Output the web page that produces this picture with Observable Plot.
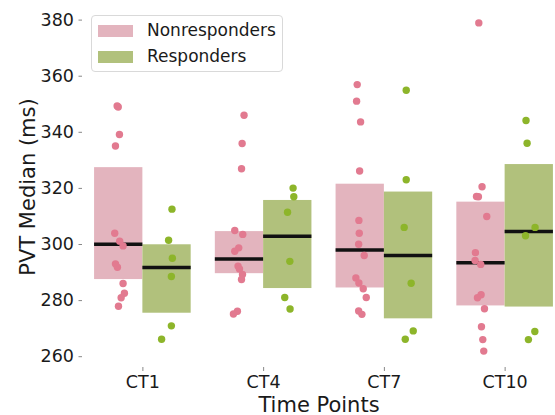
<!DOCTYPE html>
<html>
<head>
<meta charset="utf-8">
<script src="https://cdn.jsdelivr.net/npm/d3@7"></script>
<script src="https://cdn.jsdelivr.net/npm/@observablehq/plot@0.6"></script>
<style>
  html, body { margin: 0; padding: 0; background: #fff; }
  #wrap { position: relative; width: 555px; height: 415px; overflow: hidden; font-family: "DejaVu Sans", sans-serif; }
  #wrap svg { display: block; }
  .legend { position: absolute; left: 91px; top: 15px; width: 192px; height: 57px; border: 1px solid #d9d9d9; border-radius: 4px; background: rgba(255,255,255,0.8); box-sizing: border-box; }
  .legend .row { position: absolute; left: 6px; height: 13px; display: flex; align-items: center; }
  .legend .sw { width: 35px; height: 12px; margin-right: 14px; }
  .legend .lb { font-size: 17px; color: #1a1a1a; white-space: nowrap; line-height: 13px; }
  g[aria-label="x-axis label"] text, g[aria-label="y-axis label"] text { font-size: 21px; }
</style>
</head>
<body>
<div id="wrap"></div>
<script>
const timePoints = ["CT1", "CT4", "CT7", "CT10"];
const groups = ["Nonresponders", "Responders"];

const boxLowNon  = [287.5, 289.6, 284.5, 278.1];
const boxHighNon = [327.4, 304.6, 321.5, 315.1];
const medianNon  = [300.1, 294.8, 298.0, 293.5];

const boxLowRes  = [275.5, 284.3, 273.5, 277.7];
const boxHighRes = [299.9, 315.7, 318.7, 328.5];
const medianRes  = [291.8, 302.9, 296.1, 304.6];

const pointsNon = [
  [349.4, 349.0, 339.2, 335.1, 304.0, 301.2, 299.5, 293.1, 291.9, 286.1, 282.6, 281.0, 278.0],
  [346.1, 336.0, 327.0, 305.0, 303.6, 298.8, 297.6, 292.3, 291.3, 289.3, 287.5, 276.2, 275.2],
  [357.0, 351.1, 343.7, 326.2, 308.6, 304.0, 300.1, 296.1, 288.1, 286.3, 284.2, 281.1, 276.3, 275.1],
  [379.0, 320.6, 317.1, 317.0, 310.0, 297.1, 294.3, 292.9, 282.1, 281.0, 277.1, 270.7, 266.1, 262.0]
];
const jitterNon = [
  [-0.013, -0.004, 0.006, -0.027, -0.033, 0.008, 0.036, -0.027, -0.011, 0.036, 0.047, 0.020, -0.002],
  [0.038, 0.022, 0.017, -0.039, 0.027, -0.006, -0.039, -0.012, 0.000, 0.025, 0.017, -0.017, -0.050],
  [-0.025, -0.030, 0.003, -0.005, -0.011, -0.008, -0.013, 0.033, -0.036, -0.011, 0.025, 0.050, -0.013, 0.014],
  [-0.018, 0.009, -0.037, -0.021, 0.048, -0.046, -0.049, -0.002, 0.001, -0.029, 0.029, 0.004, 0.015, 0.023]
];

const pointsRes = [
  [312.6, 301.5, 295.1, 288.6, 271.0, 266.2],
  [320.1, 317.0, 311.5, 294.0, 281.1, 277.0],
  [355.0, 323.1, 306.1, 286.2, 269.2, 266.2],
  [344.2, 336.1, 306.1, 303.1, 269.0, 266.1]
];
const jitterRes = [
  [0.041, 0.013, 0.044, 0.036, 0.036, -0.045],
  [0.044, 0.050, -0.002, 0.017, -0.025, 0.019],
  [-0.019, -0.019, -0.036, 0.022, 0.039, -0.027],
  [-0.027, -0.018, 0.048, -0.031, 0.046, -0.007]
];

const yTicks = [260, 280, 300, 320, 340, 360, 380];

const boxColors = {Nonresponders: "#e3b4be", Responders: "#b1c17c"};
const dotColors = {Nonresponders: "#e27a90", Responders: "#8db52a"};
const boxWidth = 0.4;

// build tables
const boxes = [];
const dots = [];
timePoints.forEach((t, i) => {
  boxes.push({i, group: groups[0], lo: boxLowNon[i], hi: boxHighNon[i], med: medianNon[i]});
  boxes.push({i, group: groups[1], lo: boxLowRes[i], hi: boxHighRes[i], med: medianRes[i]});
  pointsNon[i].forEach((v, k) => dots.push({i, group: groups[0], v, j: jitterNon[i][k]}));
  pointsRes[i].forEach((v, k) => dots.push({i, group: groups[1], v, j: jitterRes[i][k]}));
});
const left = d => d.group === groups[0] ? d.i - boxWidth : d.i;
const right = d => d.group === groups[0] ? d.i : d.i + boxWidth;
const center = d => d.i + (d.group === groups[0] ? -boxWidth / 2 : boxWidth / 2);

const chart = Plot.plot({
  width: 555,
  height: 415,
  marginTop: 6,
  marginBottom: 48,
  marginLeft: 82,
  marginRight: 0,
  style: {fontFamily: "DejaVu Sans, sans-serif", fontSize: "17px", color: "#1a1a1a", background: "#fff"},
  x: {type: "linear", domain: [-0.5, 3.5], range: [82, 565]},
  y: {domain: [256.15, 384.85]},
  marks: [
    Plot.rect(boxes, {x1: left, x2: right, y1: "lo", y2: "hi", fill: d => boxColors[d.group]}),
    Plot.ruleY(boxes, {x1: left, x2: right, y: "med", stroke: "#111", strokeWidth: 3.5}),
    Plot.dot(dots, {x: d => center(d) + d.j, y: "v", r: 3.7, fill: d => dotColors[d.group], stroke: "none"}),
    Plot.axisY({ticks: yTicks, tickSize: 3.5, tickPadding: 5, stroke: "#888", fill: "#1a1a1a", fontSize: 17.5,
      label: "PVT Median (ms)", labelAnchor: "center", labelOffset: 62, labelArrow: "none"}),
    Plot.axisX({ticks: [0, 1, 2, 3], tickFormat: i => timePoints[i], tickSize: 4, tickPadding: 4, stroke: "#888", fill: "#1a1a1a", fontSize: 17.5,
      label: "Time Points", labelAnchor: "center", labelOffset: 44, labelArrow: "none"})
  ]
});

const wrap = document.getElementById("wrap");
wrap.appendChild(chart);

const legend = document.createElement("div");
legend.className = "legend";
groups.forEach((g, k) => {
  const row = document.createElement("div");
  row.className = "row";
  row.style.top = (k === 0 ? 8 : 34) + "px";
  const sw = document.createElement("span");
  sw.className = "sw";
  sw.style.background = boxColors[g];
  const lb = document.createElement("span");
  lb.className = "lb";
  lb.textContent = g;
  row.appendChild(sw);
  row.appendChild(lb);
  legend.appendChild(row);
});
wrap.appendChild(legend);
</script>
</body>
</html>
